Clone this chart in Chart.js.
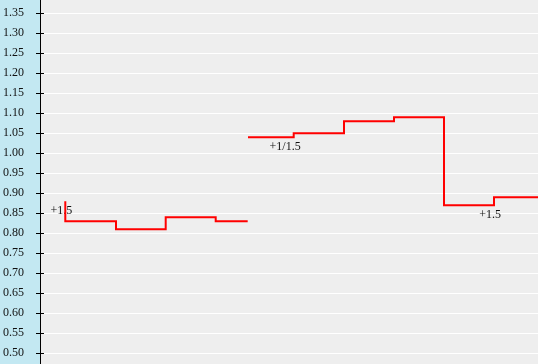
<!DOCTYPE html>
<html>
<head>
<meta charset="utf-8">
<script src="https://cdn.jsdelivr.net/npm/chart.js@4/dist/chart.umd.min.js"></script>
<style>
  html, body { margin: 0; padding: 0; background: #eeeeee; }
  #wrap { width: 538px; height: 364px; }
</style>
</head>
<body>
<div id="wrap"><canvas id="chart1"></canvas></div>
<script>
// time (minutes from left edge) and odds values
var firstTimes = [25.3, 25.3, 76, 125.7, 175.7, 207.7];
var firstValues = [0.88, 0.83, 0.81, 0.84, 0.83, 0.83];
var secondTimes = [208, 253.7, 304, 354, 404, 454, 498];
var secondValues = [1.04, 1.05, 1.08, 1.09, 0.87, 0.89, 0.89];

var yTicks = [0.50, 0.55, 0.60, 0.65, 0.70, 0.75, 0.80, 0.85, 0.90, 0.95, 1.00,
  1.05, 1.10, 1.15, 1.20, 1.25, 1.30, 1.35];

var lineNotes = [
  { x: 25.3, y: 0.88, text: '+1.5' },
  { x: 253.7, y: 1.04, text: '+1/1.5' },
  { x: 454, y: 0.87, text: '+1.5' }
];

function pts(xs, ys) {
  return xs.map(function (x, i) { return { x: x, y: ys[i] }; });
}

var bgPlugin = {
  id: 'bg',
  beforeDraw: function (chart) {
    var ctx = chart.ctx, a = chart.chartArea;
    ctx.save();
    ctx.fillStyle = '#c3e8f2';
    ctx.fillRect(0, 0, a.left, chart.height);
    ctx.fillStyle = '#eeeeee';
    ctx.fillRect(a.left, 0, chart.width - a.left, chart.height);
    ctx.restore();
  },
  beforeDatasetsDraw: function (chart) {
    var ctx = chart.ctx, xs = chart.scales.x, ys = chart.scales.y;
    ctx.save();
    ctx.font = '12px "Liberation Serif", serif';
    ctx.fillStyle = '#111';
    ctx.textAlign = 'right';
    ctx.textBaseline = 'middle';
    lineNotes.forEach(function (n) {
      ctx.fillText(n.text, xs.getPixelForValue(n.x) + 7, ys.getPixelForValue(n.y) + 10);
    });
    ctx.restore();
  },
  afterDraw: function (chart) {
    var ctx = chart.ctx, a = chart.chartArea, ys = chart.scales.y;
    ctx.save();
    ctx.strokeStyle = '#000';
    ctx.lineWidth = 1;
    ctx.beginPath();
    ctx.moveTo(a.left + 0.5, 0);
    ctx.lineTo(a.left + 0.5, chart.height);
    yTicks.forEach(function (t) {
      var py = Math.round(ys.getPixelForValue(t)) + 0.5;
      ctx.moveTo(a.left - 4, py);
      ctx.lineTo(a.left + 4, py);
    });
    ctx.stroke();
    ctx.restore();
  }
};

new Chart(document.getElementById('chart1'), {
  type: 'line',
  data: {
    datasets: [{
        data: pts(firstTimes, firstValues),
        borderColor: '#ff0000',
        borderWidth: 2,
        stepped: true,
        pointRadius: 0,
        fill: false
      }, {
        data: pts(secondTimes, secondValues),
        borderColor: '#ff0000',
        borderWidth: 2,
        stepped: true,
        pointRadius: 0,
        fill: false
      }
    ]
  },
  options: {
    responsive: true,
    maintainAspectRatio: false,
    animation: false,
    layout: { padding: 0 },
    plugins: {
      legend: { display: false },
      tooltip: { enabled: false }
    },
    scales: {
      x: {
        type: 'linear',
        display: false,
        min: 0,
        max: 498
      },
      y: {
        min: 0.4733,
        max: 1.3833,
        afterBuildTicks: function (axis) {
          axis.ticks = yTicks.map(function (v) { return { value: v }; });
        },
        afterFit: function (axis) {
          axis.width = 40;
          axis.paddingTop = 0;
          axis.paddingBottom = 0;
        },
        border: { display: false },
        grid: {
          color: '#ffffff',
          lineWidth: 1,
          drawTicks: false
        },
        ticks: {
          padding: 16,
          color: '#111',
          font: { family: '"Liberation Serif", serif', size: 12 },
          callback: function (v) { return Number(v).toFixed(2); }
        }
      }
    }
  },
  plugins: [bgPlugin]
});
</script>
</body>
</html>
